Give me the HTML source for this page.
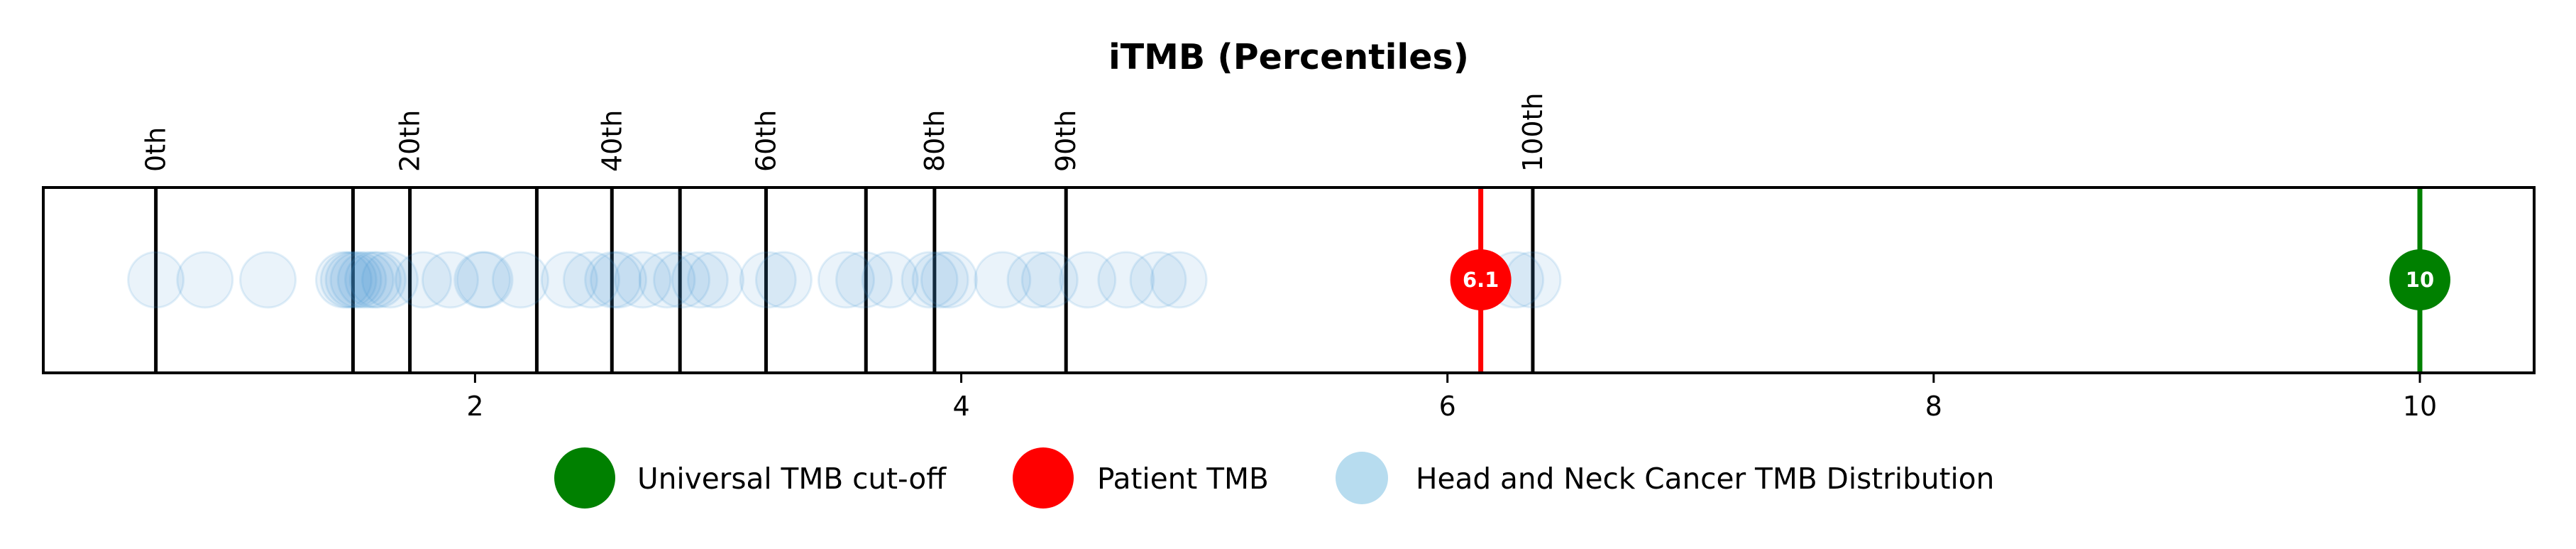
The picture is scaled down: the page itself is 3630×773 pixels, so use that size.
<!DOCTYPE html>
<html><head><meta charset="utf-8"><style>
html,body{margin:0;padding:0;background:#fff;}
svg{display:block;font-family:"DejaVu Sans","Liberation Sans",sans-serif;}
</style></head><body>
<svg id="chart" width="3630" height="773" viewBox="0 0 3630 773" xmlns="http://www.w3.org/2000/svg">
<text x="1816" y="97" text-anchor="middle" font-size="49" font-weight="bold">iTMB (Percentiles)</text>
<g id="plot"></g>
<g id="legend"></g>
</svg>
<script>
const distValues = [0.687,0.889,1.148,1.46,1.48,1.50,1.52,1.55,1.58,1.60,1.65,1.787,1.898,2.03,2.04,2.187,2.388,2.479,2.567,2.59,2.69,2.79,2.85,2.925,2.99,3.205,3.27,3.527,3.6,3.707,3.87,3.914,3.95,4.17,4.305,4.364,4.52,4.678,4.81,4.895,6.28,6.351];
const percentileValues = [0.687,1.498,1.732,2.254,2.563,2.843,3.197,3.608,3.890,4.431,6.351];
const percentileLabels = ["0th","","20th","","40th","","60th","","80th","90th","100th"];
const patientValue = [6.137];
const patientLabel = ["6.1"];
const cutoffValue = [10];
const cutoffLabel = ["10"];
const xTicks = [2,4,6,8,10];
const xTickLabels = ["2","4","6","8","10"];

const NS="http://www.w3.org/2000/svg";
const L=61,R=3571,T=264,B=525,CY=394;
const X0=0.224,X1=10.47;
function xs(v){return L+(v-X0)/(X1-X0)*(R-L);}
function mk(tag,attrs,parent){const e=document.createElementNS(NS,tag);for(const k in attrs)e.setAttribute(k,attrs[k]);parent.appendChild(e);return e;}
const plot=document.getElementById('plot');
mk('rect',{x:L,y:T,width:R-L,height:B-T,fill:'#fff',stroke:'none'},plot);
percentileValues.forEach((v,i)=>{
  const ln=mk('line',{x1:xs(v),x2:xs(v),y1:T,y2:B,stroke:'#000','stroke-width':5},plot);
  
  
  if(percentileLabels[i]){
    const t=mk('text',{x:0,y:0,'font-size':38,transform:`translate(${xs(v)+13},242) rotate(-90)`},plot);
    t.textContent=percentileLabels[i];
    
    
  }
});
distValues.forEach(v=>{
  const c=mk('circle',{cx:xs(v),cy:CY,r:39,fill:'rgba(60,150,210,0.11)',stroke:'rgba(60,150,210,0.14)','stroke-width':3},plot);
  
  
});
function marker(v,label,color,name){
  const ln=mk('line',{x1:xs(v),x2:xs(v),y1:T,y2:B,stroke:color,'stroke-width':7},plot);
  
  
  const c=mk('circle',{cx:xs(v),cy:CY,r:43,fill:color},plot);
  
  
  const t=mk('text',{x:xs(v),y:CY+10,'text-anchor':'middle','font-size':29,'font-weight':'bold',fill:'#fff'},plot);
  t.textContent=label;
  
  
}
marker(patientValue[0],patientLabel[0],'#ff0000','patient-tmb');
marker(cutoffValue[0],cutoffLabel[0],'#008000','cutoff-tmb');
mk('rect',{x:L,y:T,width:R-L,height:B-T,fill:'none',stroke:'#000','stroke-width':4},plot);
xTicks.forEach((v,i)=>{
  const tk=mk('line',{x1:xs(v),x2:xs(v),y1:B,y2:B+14,stroke:'#000','stroke-width':3},plot);
  
  
  const t=mk('text',{x:xs(v),y:585,'text-anchor':'middle','font-size':38},plot);
  t.textContent=xTickLabels[i];
  
  
});
const lg=document.getElementById('legend');
const items=[[824,43,'#008000',898,'Universal TMB cut-off'],[1470,43,'#ff0000',1546,'Patient TMB'],[1919,37,'#b7dcef',1995,'Head and Neck Cancer TMB Distribution']];
items.forEach(it=>{
  const c=mk('circle',{cx:it[0],cy:673,r:it[1],fill:it[2]},lg);
  
  
  const t=mk('text',{x:it[3],y:688,'font-size':40.6},lg);
  t.textContent=it[4];
  
  
});
</script>
</body></html>
